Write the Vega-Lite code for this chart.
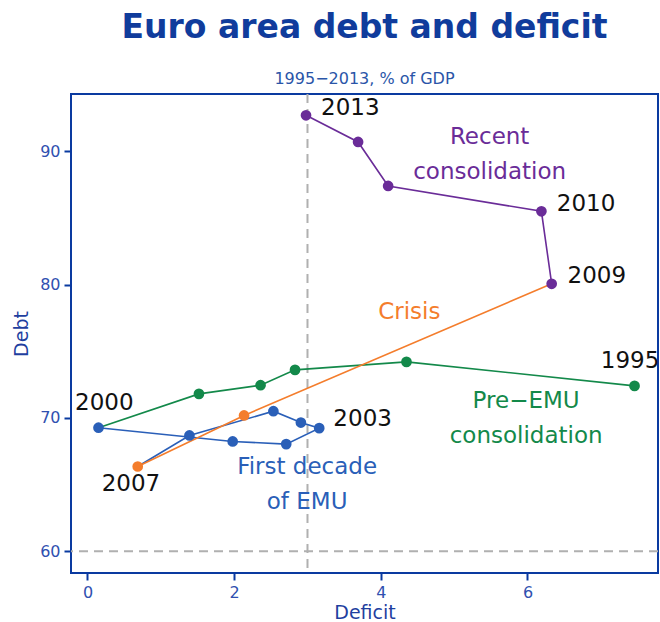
{
  "$schema": "https://vega.github.io/schema/vega-lite/v6.json",
  "autosize": "none",
  "width": 587,
  "height": 479,
  "padding": {"left": 71, "top": 94, "right": 2, "bottom": 49},
  "background": "white",
  "title": {
    "text": "Euro area debt and deficit",
    "subtitle": "1995−2013, % of GDP",
    "anchor": "middle",
    "font": "DejaVu Sans",
    "fontSize": 33,
    "fontWeight": "bold",
    "color": "#103c9c",
    "subtitleFont": "DejaVu Sans",
    "subtitleFontSize": 16,
    "subtitleColor": "#2a55a8",
    "subtitlePadding": 26,
    "offset": 6
  },
  "config": {
    "view": {"stroke": "#0a3aa0", "strokeWidth": 2},
    "axis": {
      "domain": false,
      "grid": false,
      "tickColor": "#0a3aa0",
      "tickWidth": 2,
      "tickSize": 7,
      "labelFont": "DejaVu Sans",
      "labelFontSize": 16,
      "labelColor": "#3050b0",
      "labelPadding": 4,
      "titleFont": "DejaVu Sans",
      "titleFontSize": 19,
      "titleFontWeight": "normal",
      "titleColor": "#1f3f9f"
    },
    "axisX": {"titlePadding": 3},
    "axisY": {"titlePadding": 8}
  },
  "datasets": {
    "path": [
      {"period": "Pre-EMU", "year": 1995, "deficit": 7.46, "debt": 72.4},
      {"period": "Pre-EMU", "year": 1996, "deficit": 4.35, "debt": 74.2},
      {"period": "Pre-EMU", "year": 1997, "deficit": 2.83, "debt": 73.6},
      {"period": "Pre-EMU", "year": 1998, "deficit": 2.36, "debt": 72.45},
      {"period": "Pre-EMU", "year": 1999, "deficit": 1.52, "debt": 71.8},
      {"period": "Pre-EMU", "year": 2000, "deficit": 0.15, "debt": 69.26},
      {"period": "EMU", "year": 2000, "deficit": 0.15, "debt": 69.26},
      {"period": "EMU", "year": 2001, "deficit": 1.98, "debt": 68.23},
      {"period": "EMU", "year": 2002, "deficit": 2.71, "debt": 68.03},
      {"period": "EMU", "year": 2003, "deficit": 3.16, "debt": 69.23},
      {"period": "EMU", "year": 2004, "deficit": 2.91, "debt": 69.65},
      {"period": "EMU", "year": 2005, "deficit": 2.535, "debt": 70.5},
      {"period": "EMU", "year": 2006, "deficit": 1.39, "debt": 68.68},
      {"period": "EMU", "year": 2007, "deficit": 0.685, "debt": 66.35},
      {"period": "Crisis", "year": 2007, "deficit": 0.685, "debt": 66.35},
      {"period": "Crisis", "year": 2008, "deficit": 2.135, "debt": 70.18},
      {"period": "Crisis", "year": 2009, "deficit": 6.33, "debt": 80.06},
      {"period": "Recent", "year": 2009, "deficit": 6.33, "debt": 80.06},
      {"period": "Recent", "year": 2010, "deficit": 6.19, "debt": 85.5},
      {"period": "Recent", "year": 2011, "deficit": 4.1, "debt": 87.4},
      {"period": "Recent", "year": 2012, "deficit": 3.69, "debt": 90.7},
      {"period": "Recent", "year": 2013, "deficit": 2.98, "debt": 92.7}
    ],
    "points": [
      {"period": "Pre-EMU", "year": 1995, "deficit": 7.46, "debt": 72.4},
      {"period": "Pre-EMU", "year": 1996, "deficit": 4.35, "debt": 74.2},
      {"period": "Pre-EMU", "year": 1997, "deficit": 2.83, "debt": 73.6},
      {"period": "Pre-EMU", "year": 1998, "deficit": 2.36, "debt": 72.45},
      {"period": "Pre-EMU", "year": 1999, "deficit": 1.52, "debt": 71.8},
      {"period": "EMU", "year": 2000, "deficit": 0.15, "debt": 69.26},
      {"period": "EMU", "year": 2001, "deficit": 1.98, "debt": 68.23},
      {"period": "EMU", "year": 2002, "deficit": 2.71, "debt": 68.03},
      {"period": "EMU", "year": 2003, "deficit": 3.16, "debt": 69.23},
      {"period": "EMU", "year": 2004, "deficit": 2.91, "debt": 69.65},
      {"period": "EMU", "year": 2005, "deficit": 2.535, "debt": 70.5},
      {"period": "EMU", "year": 2006, "deficit": 1.39, "debt": 68.68},
      {"period": "Crisis", "year": 2007, "deficit": 0.685, "debt": 66.35},
      {"period": "Crisis", "year": 2008, "deficit": 2.135, "debt": 70.18},
      {"period": "Recent", "year": 2009, "deficit": 6.33, "debt": 80.06},
      {"period": "Recent", "year": 2010, "deficit": 6.19, "debt": 85.5},
      {"period": "Recent", "year": 2011, "deficit": 4.1, "debt": 87.4},
      {"period": "Recent", "year": 2012, "deficit": 3.69, "debt": 90.7},
      {"period": "Recent", "year": 2013, "deficit": 2.98, "debt": 92.7}
    ],
    "yearLabels": [
      {"label": "2013", "deficit": 3.185, "debt": 93.28},
      {"label": "2010", "deficit": 6.4, "debt": 86.06},
      {"label": "2009", "deficit": 6.546, "debt": 80.68},
      {"label": "1995", "deficit": 7.0, "debt": 74.3},
      {"label": "2003", "deficit": 3.353, "debt": 69.88},
      {"label": "2000", "deficit": -0.17, "debt": 71.13},
      {"label": "2007", "deficit": 0.194, "debt": 65.06}
    ],
    "periodLabels": [
      {"period": "Recent", "label": "Recent\nconsolidation", "deficit": 5.484, "debt": 91.11},
      {"period": "Crisis", "label": "Crisis", "deficit": 4.389, "debt": 77.93},
      {"period": "Pre-EMU", "label": "Pre−EMU\nconsolidation", "deficit": 5.982, "debt": 71.23},
      {"period": "EMU", "label": "First decade\nof EMU", "deficit": 2.995, "debt": 66.3}
    ]
  },
  "layer": [
    {
      "data": {"values": [{"v": 3}]},
      "mark": {"type": "rule", "color": "#b0b0b0", "strokeWidth": 2, "strokeDash": [9, 6]},
      "encoding": {"x": {"field": "v", "type": "quantitative", "scale": {"domain": [-0.225, 7.78], "nice": false, "zero": false}}}
    },
    {
      "data": {"values": [{"v": 60}]},
      "mark": {"type": "rule", "color": "#b0b0b0", "strokeWidth": 2, "strokeDash": [9, 6]},
      "encoding": {"y": {"field": "v", "type": "quantitative", "scale": {"domain": [58.36, 94.3], "nice": false, "zero": false}}}
    },
    {
      "data": {"name": "path"},
      "mark": {"type": "line", "strokeWidth": 1.6},
      "encoding": {
        "x": {"field": "deficit", "type": "quantitative", "title": "Deficit", "scale": {"domain": [-0.225, 7.78], "nice": false, "zero": false}, "axis": {"values": [0, 2, 4, 6], "format": "d"}},
        "y": {"field": "debt", "type": "quantitative", "title": "Debt", "scale": {"domain": [58.36, 94.3], "nice": false, "zero": false}, "axis": {"values": [60, 70, 80, 90], "format": "d"}},
        "color": {"field": "period", "type": "nominal", "scale": {"domain": ["Pre-EMU", "EMU", "Crisis", "Recent"], "range": ["#13894a", "#2a5fb8", "#f47d2c", "#6a2c98"]}, "legend": null},
        "detail": {"field": "period"},
        "order": {"field": "year", "type": "quantitative"}
      }
    },
    {
      "data": {"name": "points"},
      "mark": {"type": "circle", "size": 115, "opacity": 1},
      "encoding": {
        "x": {"field": "deficit", "type": "quantitative"},
        "y": {"field": "debt", "type": "quantitative"},
        "color": {"field": "period", "type": "nominal", "legend": null}
      }
    },
    {
      "data": {"name": "yearLabels"},
      "mark": {"type": "text", "align": "left", "baseline": "middle", "font": "DejaVu Sans", "fontSize": 23, "color": "#111111"},
      "encoding": {
        "x": {"field": "deficit", "type": "quantitative"},
        "y": {"field": "debt", "type": "quantitative"},
        "text": {"field": "label"}
      }
    },
    {
      "data": {"name": "periodLabels"},
      "mark": {"type": "text", "align": "center", "baseline": "middle", "font": "DejaVu Sans", "fontSize": 23, "lineBreak": "\n", "lineHeight": 35},
      "encoding": {
        "x": {"field": "deficit", "type": "quantitative"},
        "y": {"field": "debt", "type": "quantitative"},
        "text": {"field": "label"},
        "color": {"field": "period", "type": "nominal", "legend": null}
      }
    }
  ]
}
